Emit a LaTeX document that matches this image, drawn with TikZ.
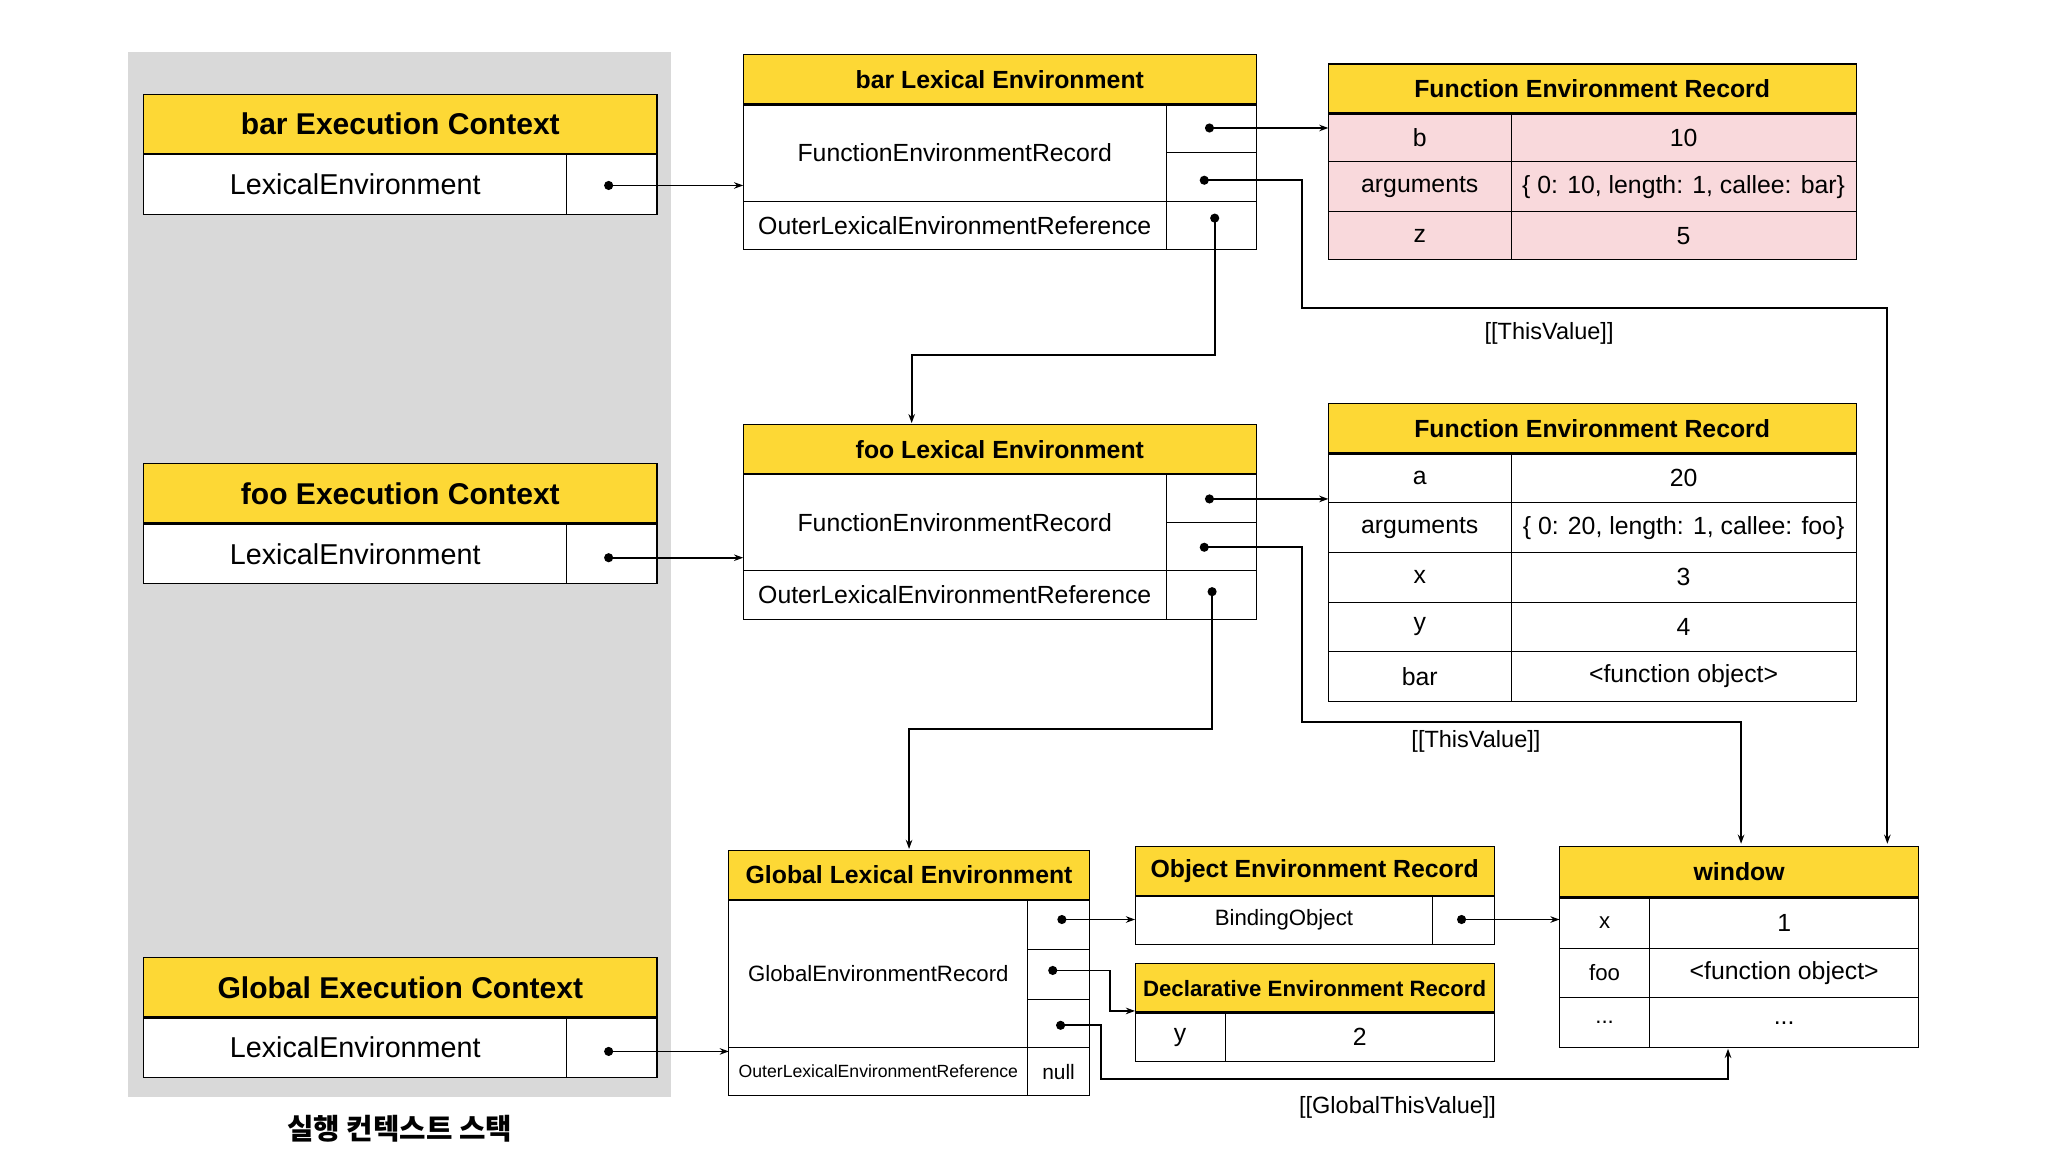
\documentclass[tikz,border=0pt]{standalone}
\usepackage{fontspec}
\setmainfont{Liberation Sans}
\newfontfamily\cjk{Noto Sans CJK KR}
\usetikzlibrary{arrows.meta}
\definecolor{ylw}{HTML}{FDD835}
\definecolor{pnk}{HTML}{F9D9DC}
\definecolor{bgg}{HTML}{D9D9D9}
\newcommand\mkbox[7]{\node[cell,#6,minimum width={(#4-#2)*1pt},minimum height={(#5-#3)*1pt}] (#1) at ({(#2+#4)/2},{(#3+#5)/2}) {#7};}
\tikzset{
 cell/.style={draw,line width=0.8pt,inner sep=0pt,outer sep=0pt,font=\fontsize{19}{22}\selectfont},
 ttl/.style={fill=ylw,font=\bfseries\fontsize{19}{22}\selectfont},
 ttlbig/.style={fill=ylw,font=\bfseries\fontsize{23}{26}\selectfont},
 big/.style={font=\fontsize{22}{25}\selectfont},
 pk/.style={fill=pnk},
 wh/.style={fill=white},
 arr/.style={line width=1.4pt,-{Stealth[length=7pt,width=5pt]}},
 ln/.style={line width=1.4pt},
 dot/.style={fill=black},
 lbl/.style={font=\fontsize{18}{21}\selectfont}
}
\begin{document}
\begin{tikzpicture}[x=1pt,y=-1pt]
\useasboundingbox (0,0) rectangle (1568,882);
\fill[white] (0,0) rectangle (1568,882);
\fill[bgg] (98,40) rectangle (514,840);
% execution contexts
\mkbox{barEC}{110}{72}{503}{118}{ttlbig}{bar Execution Context}
\mkbox{barECl}{110}{118}{434}{164}{wh,big}{LexicalEnvironment}
\mkbox{barECr}{434}{118}{503}{164}{wh}{}
\mkbox{fooEC}{110}{355}{503}{401}{ttlbig}{foo Execution Context}
\mkbox{fooECl}{110}{401}{434}{447}{wh,big}{LexicalEnvironment}
\mkbox{fooECr}{434}{401}{503}{447}{wh}{}
\mkbox{gEC}{110}{733}{503}{779}{ttlbig}{Global Execution Context}
\mkbox{gECl}{110}{779}{434}{825}{wh,big}{LexicalEnvironment}
\mkbox{gECr}{434}{779}{503}{825}{wh}{}
\node[font=\cjk\bfseries\fontsize{22}{25}\selectfont] (stk) at (306,864) {실행 컨텍스트 스택};
% bar LE
\mkbox{barLE}{569}{42}{962}{80}{ttl}{bar Lexical Environment}
\mkbox{barFER}{569}{80}{893}{154}{}{FunctionEnvironmentRecord}
\mkbox{barR1}{893}{80}{962}{117}{}{}
\mkbox{barR2}{893}{117}{962}{154}{}{}
\mkbox{barOut}{569}{154}{893}{191}{}{OuterLexicalEnvironmentReference}
\mkbox{barR3}{893}{154}{962}{191}{}{}
% bar FER
\mkbox{bFR}{1017}{49}{1421}{87}{ttl}{Function Environment Record}
\mkbox{bFa}{1017}{87}{1157}{124}{pk}{b}
\mkbox{bFb}{1157}{87}{1421}{124}{pk}{10}
\mkbox{bFc}{1017}{124}{1157}{162}{pk}{arguments}
\mkbox{bFd}{1157}{124}{1421}{162}{pk}{\{ 0: 10, length: 1, callee: bar\}}
\mkbox{bFe}{1017}{162}{1157}{199}{pk}{z}
\mkbox{bFf}{1157}{162}{1421}{199}{pk}{5}
% foo LE
\mkbox{fooLE}{569}{325}{962}{363}{ttl}{foo Lexical Environment}
\mkbox{fooFER}{569}{363}{893}{437}{}{FunctionEnvironmentRecord}
\mkbox{fooR1}{893}{363}{962}{400}{}{}
\mkbox{fooR2}{893}{400}{962}{437}{}{}
\mkbox{fooOut}{569}{437}{893}{474}{}{OuterLexicalEnvironmentReference}
\mkbox{fooR3}{893}{437}{962}{474}{}{}
% foo FER
\mkbox{fFR}{1017}{309}{1421}{347}{ttl}{Function Environment Record}
\mkbox{fF1}{1017}{347}{1157}{385}{}{a}
\mkbox{fF2}{1157}{347}{1421}{385}{}{20}
\mkbox{fF3}{1017}{385}{1157}{423}{}{arguments}
\mkbox{fF4}{1157}{385}{1421}{423}{}{\{ 0: 20, length: 1, callee: foo\}}
\mkbox{fF5}{1017}{423}{1157}{461}{}{x}
\mkbox{fF6}{1157}{423}{1421}{461}{}{3}
\mkbox{fF7}{1017}{461}{1157}{499}{}{y}
\mkbox{fF8}{1157}{461}{1421}{499}{}{4}
\mkbox{fF9}{1017}{499}{1157}{537}{}{bar}
\mkbox{fF10}{1157}{499}{1421}{537}{}{<function object>}
% Global LE
\mkbox{gLE}{558}{651}{834}{689}{ttl}{Global Lexical Environment}
\mkbox{gER}{558}{689}{787}{802}{font=\fontsize{17}{20}\selectfont}{GlobalEnvironmentRecord}
\mkbox{gR1}{787}{689}{834}{727}{}{}
\mkbox{gR2}{787}{727}{834}{765}{}{}
\mkbox{gR3}{787}{765}{834}{802}{}{}
\mkbox{gOut}{558}{802}{787}{839}{font=\fontsize{13.5}{16}\selectfont}{OuterLexicalEnvironmentReference}
\mkbox{gNull}{787}{802}{834}{839}{font=\fontsize{16}{19}\selectfont}{null}
% Object ER
\mkbox{oER}{869}{648}{1144}{686}{ttl}{Object Environment Record}
\mkbox{oB}{869}{686}{1097}{723}{font=\fontsize{17}{20}\selectfont}{BindingObject}
\mkbox{oR}{1097}{686}{1144}{723}{}{}
% Declarative ER
\mkbox{dER}{869}{738}{1144}{775}{ttl,font=\bfseries\fontsize{17}{20}\selectfont}{Declarative Environment Record}
\mkbox{dy}{869}{775}{938}{813}{}{y}
\mkbox{dv}{938}{775}{1144}{813}{}{2}
% window
\mkbox{win}{1194}{648}{1469}{687}{ttl}{window}
\mkbox{w1}{1194}{687}{1263}{726}{font=\fontsize{17}{20}\selectfont}{x}
\mkbox{w2}{1263}{687}{1469}{726}{}{1}
\mkbox{w3}{1194}{726}{1263}{764}{font=\fontsize{17}{20}\selectfont}{foo}
\mkbox{w4}{1263}{726}{1469}{764}{}{<function object>}
\mkbox{w5}{1194}{764}{1263}{802}{font=\fontsize{17}{20}\selectfont}{...}
\mkbox{w6}{1263}{764}{1469}{802}{}{...}
% thick lines under titles
\foreach \n in {barEC,fooEC,gEC,barLE,bFR,fooLE,fFR,gLE,oER,dER,win}{\draw[line width=2pt] (\n.south west) -- (\n.south east);}
% dots
\coordinate (a1) at (466,142); \coordinate (a2) at (466,427); \coordinate (a3) at (466,805);
\coordinate (b1) at (926,98); \coordinate (b2) at (922,138); \coordinate (b3) at (930,167);
\coordinate (c1) at (926,382); \coordinate (c2) at (922,419); \coordinate (c3) at (928,453);
\coordinate (g1) at (813,704); \coordinate (g2) at (806,743); \coordinate (g3) at (812,785);
\coordinate (o1) at (1119,704);
\foreach \p in {a1,a2,a3,b1,b2,b3,c1,c2,c3,g1,g2,g3,o1}{\fill (\p) circle (3.5);}
% connectors
\draw[arr] (a1) -- (barFER.west|-a1);
\draw[arr] (a2) -- (fooFER.west|-a2);
\draw[arr] (a3) -- (gOut.west|-a3);
\draw[arr] (b1) -- (bFa.west|-b1);
\draw[arr] (b2) -- (997,138) -- (997,236) -- (1445,236) -- (1445,646);
\draw[arr] (b3) -- (930,272) -- (698,272) -- (698,324);
\draw[arr] (c1) -- (fF1.west|-c1);
\draw[arr] (c2) -- (997,419) -- (997,553) -- (1333,553) -- (1333,646);
\draw[arr] (c3) -- (928,558) -- (696,558) -- (696,650);
\draw[arr] (g1) -- (oB.west|-g1);
\draw[arr] (g2) -- (850,743) -- (850,774) -- (dER.west|-0,774);
\draw[arr] (g3) -- (843,785) -- (843,826) -- (1323,826) -- (1323,803);
\draw[arr] (o1) -- (w1.west|-o1);
\node[lbl] (t1) at (1186,255) {[[ThisValue]]};
\node[lbl] (t2) at (1130,568) {[[ThisValue]]};
\node[lbl] (t3) at (1070,848) {[[GlobalThisValue]]};
\end{tikzpicture}
\end{document}
